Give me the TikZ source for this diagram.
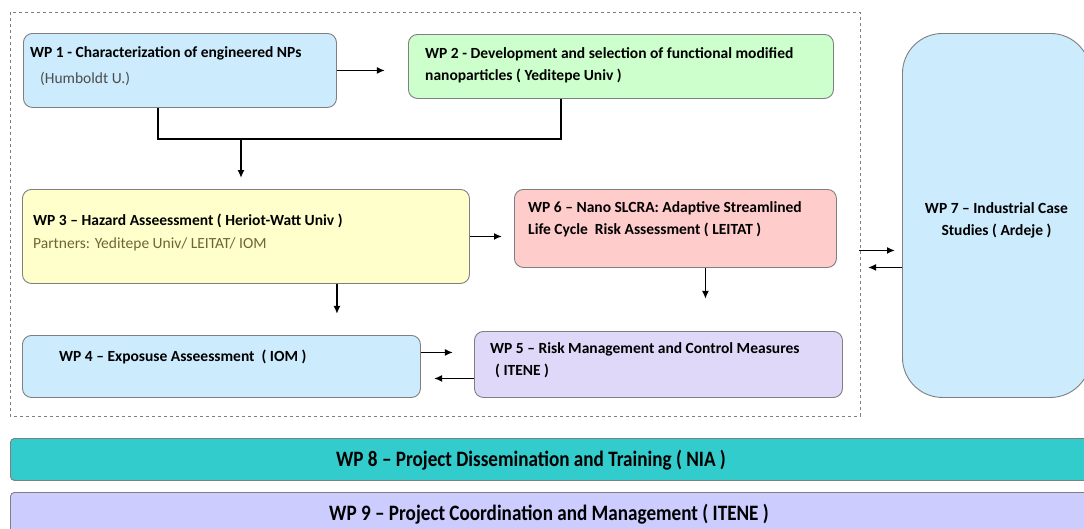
\documentclass[tikz,border=0pt]{standalone}
\usepackage{fontspec}
\setmainfont{Carlito}
\newfontfamily\condfont[FakeStretch=0.87,Ligatures=TeX]{Carlito}
\usepackage{tikz}
\usetikzlibrary{arrows.meta}

\definecolor{azul}{HTML}{CCEBFC}
\definecolor{verde}{HTML}{CCFFCC}
\definecolor{amarillo}{HTML}{FFFFCC}
\definecolor{rosa}{HTML}{FFCCCC}
\definecolor{lila}{HTML}{E0D8F8}
\definecolor{turquesa}{HTML}{33CCCC}
\definecolor{malva}{HTML}{CCCCFF}
\definecolor{borde}{HTML}{7F7F7F}
\definecolor{oliva}{HTML}{6E6630}

\begin{document}
\begin{tikzpicture}[x=1pt,y=-1pt,
    wpbox/.style={draw=borde, line width=0.9pt, rounded corners=9pt, anchor=north west, inner sep=0pt},
    wptext/.style={anchor=north west, align=left, inner sep=0pt, font=\fontsize{15.5}{22.5}\selectfont\bfseries},
    bartext/.style={inner sep=0pt, font=\fontsize{22}{24}\selectfont\condfont\bfseries},
    flecha/.style={line width=1.6pt, -{Latex[length=8pt,width=7pt]}}]
    % Marco
    \useasboundingbox (0,0) rectangle (1084,528);
    \clip (0,0) rectangle (1084,528);
    \fill[white] (0,0) rectangle (1084,528);

    % Zona discontinua
    \draw[dashed, borde, line width=0.8pt] (10,12) rectangle (860,416);

    % Cajas de los paquetes de trabajo
    \node[wpbox, fill=azul, minimum width=313pt, minimum height=74pt] (wp1) at (23,33) {};
    \node[wptext] (wp1t) at ([shift={(7,13)}]wp1.north west)
        {WP 1 - Characterization of engineered NPs\\[4pt]\mdseries\color{black!70}\hspace{10pt}(Humboldt U.)};
    \node[wpbox, fill=verde, minimum width=425pt, minimum height=64pt] (wp2) at (408,34) {};
    \node[wptext] (wp2t) at ([shift={(17,13)}]wp2.north west)
        {WP 2 - Development and selection of functional modified\\nanoparticles ( Yeditepe Univ )};
    \node[wpbox, fill=amarillo, minimum width=447pt, minimum height=94pt] (wp3) at (22,189) {};
    \node[wptext] (wp3t) at ([shift={(11,25)}]wp3.north west)
        {WP 3 -- Hazard Asseessment ( Heriot-Watt Univ )\\\mdseries\color{oliva}Partners: Yeditepe Univ/ LEITAT/ IOM};
    \node[wpbox, fill=rosa, minimum width=322pt, minimum height=78pt] (wp6) at (514,189) {};
    \node[wptext] (wp6t) at ([shift={(14,12)}]wp6.north west)
        {WP 6 -- Nano SLCRA: Adaptive Streamlined\\Life Cycle~ Risk Assessment ( LEITAT )};
    \node[wpbox, fill=azul, minimum width=398pt, minimum height=62pt] (wp4) at (22,335) {};
    \node[wptext] (wp4t) at ([shift={(37,15)}]wp4.north west)
        {WP 4 -- Exposuse Asseessment ~( IOM )};
    \node[wpbox, fill=lila, minimum width=368pt, minimum height=66pt] (wp5) at (474,331) {};
    \node[wptext] (wp5t) at ([shift={(16,11)}]wp5.north west)
        {WP 5 -- Risk Management and Control Measures\\\hspace{5pt}( ITENE )};
    \node[wpbox, fill=azul, rounded corners=40pt, minimum width=188pt, minimum height=364pt] (wp7) at (902,33) {};
    \node[wptext, anchor=center, align=center] (wp7t) at ([yshift=-5pt]wp7.center)
        {WP 7 -- Industrial Case\\Studies ( Ardeje )};

    % Barras inferiores
    \node[wpbox, fill=turquesa, rounded corners=4pt, minimum width=1100pt, minimum height=42pt] (wp8) at (10,438) {};
    \node[bartext] (wp8t) at (531,460) {WP 8 -- Project Dissemination and Training ( NIA )};
    \node[wpbox, fill=malva, rounded corners=4pt, minimum width=1100pt, minimum height=50pt] (wp9) at (10,492) {};
    \node[bartext] (wp9t) at (549,514) {WP 9 -- Project Coordination and Management ( ITENE )};

    % Union de WP1 y WP2
    \coordinate (j1) at (158,139);
    \coordinate (j2) at (561,139);
    \coordinate (j3) at (241,139);
    \draw[line width=1.6pt] (wp1.south -| j1) -- (j1) -- (j2) -- (j2 |- wp2.south);
    \draw[flecha] (j3) -- ([yshift=11pt]j3 |- wp3.north);

    % Flechas
    \draw[flecha] (wp1.east) -- ++(48,0);
    \draw[flecha] (wp3.east) -- ([xshift=-12pt]wp3.east -| wp6.west);
    \draw[flecha] ([xshift=91pt]wp3.south) -- ++(0,30);
    \draw[flecha] ([xshift=30pt]wp6.south) -- ++(0,31);
    \draw[flecha] ([yshift=14pt]wp4.east) -- ++(32,0);
    \draw[flecha] ([yshift=-14pt]wp5.west) -- ++(-40,0);
    \draw[flecha] ([yshift=-35pt]wp7.west) ++(-43,0) -- ++(36,0);
    \draw[flecha] ([yshift=-52pt]wp7.west) -- ++(-34,0);
\end{tikzpicture}
\end{document}
